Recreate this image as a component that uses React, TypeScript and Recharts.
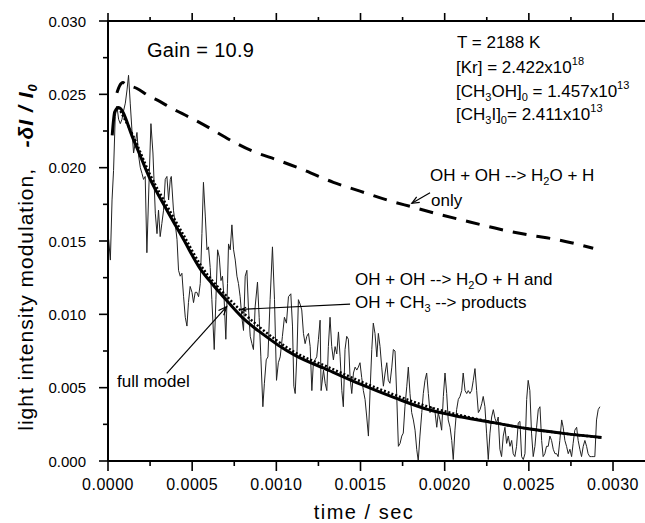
import React from "react";
import { LineChart, Line, XAxis, YAxis, ReferenceLine, Customized } from "recharts";

// time in microseconds, values are -dI/I0
const traceTimesUs = [
  4, 14, 24, 33, 43, 53, 63, 73, 83, 93, 103, 113, 122, 132, 142, 152, 162, 172, 182, 192,
  202, 211, 221, 231, 241, 255, 267, 281, 291, 300, 310, 320, 330, 340, 350, 360, 370, 376, 389, 399,
  410, 419, 429, 439, 449, 459, 469, 478, 488, 499, 508, 518, 528, 538, 548, 558, 567, 578, 588, 597,
  607, 617, 631, 641, 651, 661, 671, 680, 690, 700, 710, 716, 726, 736, 746, 756, 766, 775, 785, 795,
  805, 815, 825, 834, 845, 855, 864, 874, 888, 898, 908, 920, 929, 940, 950, 963, 977, 989, 1001, 1012,
  1023, 1036, 1048, 1060, 1072, 1086, 1096, 1104, 1112, 1123, 1131, 1141, 1151, 1161, 1171, 1181, 1191, 1201, 1211, 1220,
  1230, 1240, 1250, 1260, 1266, 1280, 1290, 1300, 1309, 1319, 1329, 1339, 1349, 1359, 1369, 1379, 1389, 1398, 1408, 1418,
  1428, 1438, 1448, 1458, 1468, 1478, 1487, 1497, 1507, 1517, 1527, 1537, 1547, 1557, 1567, 1576, 1586, 1597, 1606, 1616,
  1626, 1636, 1646, 1656, 1665, 1675, 1686, 1695, 1705, 1715, 1725, 1735, 1745, 1754, 1764, 1775, 1784, 1794, 1804, 1814,
  1824, 1834, 1843, 1853, 1864, 1873, 1883, 1893, 1903, 1913, 1923, 1932, 1943, 1953, 1962, 1972, 1982, 1992, 2002, 2012,
  2021, 2032, 2042, 2051, 2061, 2071, 2081, 2091, 2101, 2110, 2121, 2131, 2140, 2150, 2160, 2170, 2180, 2190, 2200, 2210,
  2220, 2229, 2239, 2249, 2259, 2269, 2279, 2289, 2299, 2309, 2318, 2328, 2338, 2348, 2358, 2368, 2378, 2388, 2398, 2407,
  2417, 2427, 2437, 2447, 2457, 2467, 2477, 2487, 2496, 2506, 2516, 2526, 2536, 2546, 2556, 2566, 2576, 2585, 2595, 2605,
  2615, 2625, 2635, 2645, 2655, 2665, 2674, 2684, 2695, 2704, 2714, 2724, 2734, 2744, 2754, 2763, 2773, 2784, 2793, 2803,
  2813, 2823, 2833, 2843, 2852, 2862, 2873, 2882, 2892, 2902, 2912, 2922,
];
const traceSignal = [
  0.0151, 0.0137, 0.0178, 0.0198, 0.0235, 0.0242, 0.0233, 0.023, 0.0233, 0.0239, 0.0244, 0.0253, 0.0263, 0.0244, 0.0226, 0.021, 0.0217, 0.0224, 0.0208, 0.02,
  0.0196, 0.0192, 0.0194, 0.0142, 0.018, 0.023, 0.021, 0.0169, 0.0155, 0.0171, 0.0153, 0.0162, 0.0171, 0.0192, 0.0194, 0.0178, 0.0192, 0.0194, 0.0171, 0.0162,
  0.0151, 0.013, 0.0126, 0.0128, 0.0112, 0.0098, 0.0092, 0.0108, 0.0119, 0.0115, 0.0108, 0.0115, 0.0115, 0.0112, 0.0121, 0.0155, 0.019, 0.0167, 0.0144, 0.0146,
  0.0132, 0.011, 0.0076, 0.011, 0.0144, 0.0139, 0.0123, 0.0126, 0.011, 0.0083, 0.0121, 0.0148, 0.0144, 0.0161, 0.0144, 0.0137, 0.0126, 0.0121, 0.0112, 0.0098,
  0.0089, 0.0126, 0.013, 0.0105, 0.0085, 0.008, 0.0076, 0.0105, 0.0122, 0.0098, 0.0071, 0.0037, 0.0053, 0.0069, 0.0071, 0.011, 0.0146, 0.011, 0.0055, 0.0067,
  0.0071, 0.0085, 0.0098, 0.0094, 0.0112, 0.0114, 0.0092, 0.0051, 0.0046, 0.0075, 0.011, 0.0107, 0.0103, 0.0087, 0.008, 0.0085, 0.0087, 0.0078, 0.0048, 0.0067,
  0.0069, 0.0071, 0.0083, 0.0096, 0.0048, 0.0062, 0.0053, 0.0048, 0.0078, 0.0098, 0.0078, 0.0069, 0.0078, 0.0073, 0.0088, 0.0071, 0.0048, 0.0037, 0.0076, 0.0085,
  0.0083, 0.0057, 0.0046, 0.006, 0.0064, 0.0062, 0.0064, 0.0067, 0.0057, 0.0048, 0.0042, 0.003, 0.0017, 0.0048, 0.0076, 0.0094, 0.0087, 0.0071, 0.0087, 0.0078,
  0.0064, 0.0051, 0.006, 0.0067, 0.0055, 0.0053, 0.0064, 0.0076, 0.0075, 0.0045, 0.001, 0.0012, 0.0017, 0.0019, 0.0037, 0.0051, 0.0064, 0.0046, 0.0033, 0.0028,
  0.0021, 0.0008, 0.0, 0.0017, 0.0033, 0.0046, 0.0055, 0.006, 0.0046, 0.0033, 0.0037, 0.0035, 0.0033, 0.0023, 0.0033, 0.0028, 0.0021, 0.0044, 0.006, 0.0046,
  0.0028, 0.0023, 0.0014, 0.0001, 0.0021, 0.0035, 0.0042, 0.0044, 0.0048, 0.006, 0.0048, 0.0046, 0.0048, 0.0046, 0.0048, 0.0055, 0.0063, 0.0048, 0.0033, 0.0035,
  0.0039, 0.0044, 0.0037, 0.0019, 0.0001, 0.0019, 0.003, 0.0035, 0.0029, 0.0026, 0.003, 0.0008, 0.0003, 0.0017, 0.0023, 0.0012, 0.0017, 0.001, 0.0014, 0.0005,
  0.0003, 0.001, 0.0026, 0.0027, 0.0003, 0.0001, 0.0005, 0.0042, 0.0055, 0.0048, 0.0019, 0.0003, 0.001, 0.0023, 0.0035, 0.0037, 0.0014, 0.0003, 0.0005, 0.001,
  0.001, 0.0017, 0.0014, 0.0008, 0.0005, 0.0005, 0.0003, 0.0014, 0.0028, 0.0023, 0.0014, 0.001, 0.0005, 0.0008, 0.0003, 0.0012, 0.0021, 0.0023, 0.0014, 0.0008,
  0.0003, 0.001, 0.0014, 0.001, 0.0005, 0.0003, 0.0003, 0.0003, 0.0003, 0.0028, 0.0035, 0.0037,
];

const fullTimesUs = [25, 40, 63, 152, 251, 350, 449, 548, 617, 716, 815, 914, 1012, 1112, 1309, 1507, 1705, 1903, 2101, 2299, 2496, 2695, 2932];
const fullModel = [0.0222, 0.0238, 0.0241, 0.0219, 0.0192, 0.0171, 0.0151, 0.0131, 0.0121, 0.0108, 0.0096, 0.0087, 0.0079, 0.0072, 0.0062, 0.0052, 0.0043, 0.0035, 0.003, 0.0026, 0.0022, 0.0019, 0.0016];

const altTimesUs = [63, 152, 251, 350, 449, 548, 716, 914, 1112, 1309, 1507, 1705, 1903, 2101, 2299, 2496, 2695, 2932];
const altModel = [0.0241, 0.0221, 0.0195, 0.0174, 0.0154, 0.0134, 0.0111, 0.009, 0.0074, 0.0064, 0.0054, 0.0045, 0.0037, 0.0031, 0.0026, 0.0022, 0.0019, 0.0016];

const onlyTimesUs = [53, 70, 89, 103, 172, 241, 310, 370, 439, 508, 864, 1012, 1082, 1171, 1339, 1497, 1656, 1814, 1972, 2150, 2328, 2506, 2665, 2882];
const onlyModel = [0.0251, 0.0256, 0.0258, 0.0257, 0.0254, 0.0249, 0.0245, 0.0241, 0.0237, 0.0233, 0.0211, 0.0205, 0.0202, 0.0198, 0.019, 0.0184, 0.0178, 0.0173, 0.0168, 0.0163, 0.0158, 0.0154, 0.0151, 0.0145];

const X_MAX = 0.00319;
const Y_MAX = 0.03;
const xMajorTicks = [0, 0.0005, 0.001, 0.0015, 0.002, 0.0025, 0.003];
const xMinorTicks = [0.00025, 0.00075, 0.00125, 0.00175, 0.00225, 0.00275];
const yMajorTicks = [0, 0.005, 0.01, 0.015, 0.02, 0.025, 0.03];
const yMinorTicks = [0.0025, 0.0075, 0.0125, 0.0175, 0.0225, 0.0275];

const toSeries = (timesUs: number[], values: number[]) =>
  timesUs.map((t, i) => ({ t: t / 1e6, v: values[i] }));

const traceData = toSeries(traceTimesUs, traceSignal);
const fullData = toSeries(fullTimesUs, fullModel);
const altData = toSeries(altTimesUs, altModel);
const onlyData = toSeries(onlyTimesUs, onlyModel);

const xTicks = [...xMajorTicks, ...xMinorTicks].sort((a, b) => a - b);
const yTicks = [...yMajorTicks, ...yMinorTicks].sort((a, b) => a - b);

// plot box (pixels) = chart margins + axis sizes below
const PLOT_LEFT = 108;
const PLOT_RIGHT = 645;
const PLOT_TOP = 21;

const FONT = "'Liberation Sans', Arial, sans-serif";
const isMajor = (v: number, step: number) => Math.abs(v / step - Math.round(v / step)) < 1e-6;

const BottomTick = (props: any) => {
  const { x, y, payload } = props;
  const major = isMajor(payload.value, 0.0005);
  return (
    <g>
      <line x1={x} y1={y} x2={x} y2={y + (major ? 10 : 5)} stroke="#000" strokeWidth={1.6} />
      {major && (
        <text x={x} y={y + 29} textAnchor="middle" fontSize={16} fontFamily={FONT} letterSpacing={0.5} fill="#000">
          {payload.value.toFixed(4)}
        </text>
      )}
    </g>
  );
};

const LeftTick = (props: any) => {
  const { x, y, payload } = props;
  const major = isMajor(payload.value, 0.005);
  return (
    <g>
      <line x1={x} y1={y} x2={x - (major ? 9 : 5)} y2={y} stroke="#000" strokeWidth={1.6} />
      {major && (
        <text x={x - 22} y={y + 5.5} textAnchor="end" fontSize={15} fontFamily={FONT} fill="#000">
          {payload.value.toFixed(3)}
        </text>
      )}
    </g>
  );
};

const Arrow = (props: any) => {
  const { x1, y1, x2, y2, head = 9 } = props;
  const a = Math.atan2(y2 - y1, x2 - x1);
  const s = 0.4;
  return (
    <g>
      <line x1={x1} y1={y1} x2={x2} y2={y2} stroke="#000" strokeWidth={1.2} />
      <polyline
        points={`${x2 - head * Math.cos(a - s)},${y2 - head * Math.sin(a - s)} ${x2},${y2} ${x2 - head * Math.cos(a + s)},${y2 - head * Math.sin(a + s)}`}
        fill="none"
        stroke="#000"
        strokeWidth={1.2}
      />
    </g>
  );
};

// segments: plain text, or [text, "sub" | "sup"]
type Seg = string | [string, "sub" | "sup"];
const shiftOf = (s: Seg) => (typeof s === "string" ? 0 : s[1] === "sub" ? 4 : -8);

const RichText = ({ x, y, segs }: { x: number; y: number; segs: Seg[] }) => {
  let prev = 0;
  return (
    <text x={x} y={y}>
      {segs.map((s, i) => {
        const shift = shiftOf(s);
        const dy = shift - prev;
        prev = shift;
        const txt = typeof s === "string" ? s : s[0];
        return (
          <tspan key={i} dy={dy} fontSize={typeof s === "string" ? undefined : 11}>
            {txt}
          </tspan>
        );
      })}
    </text>
  );
};

const topTickX = (t: number) => PLOT_LEFT + (t / X_MAX) * (PLOT_RIGHT - PLOT_LEFT);

const Annotations = () => (
  <g fontFamily={FONT} fill="#000">
    <rect x={PLOT_LEFT - 1} y={PLOT_TOP - 1} width={PLOT_RIGHT - PLOT_LEFT + 1} height={2} fill="#000" />
    {xTicks.map((t) => {
      const len = isMajor(t, 0.0005) ? 8 : 4;
      return <rect key={t} x={topTickX(t) - 0.8} y={PLOT_TOP - len} width={1.6} height={len} fill="#000" />;
    })}
    <text x={147} y={57} fontSize={20} letterSpacing={0.3}>Gain = 10.9</text>
    <g fontSize={17}>
      <text x={457} y={48}>T = 2188 K</text>
      <RichText x={456} y={73} segs={["[Kr] = 2.422x10", ["18", "sup"]]} />
      <RichText x={456} y={97} segs={["[CH", ["3", "sub"], "OH]", ["0", "sub"], " = 1.457x10", ["13", "sup"]]} />
      <RichText x={456} y={120} segs={["[CH", ["3", "sub"], "I]", ["0", "sub"], "= 2.411x10", ["13", "sup"]]} />
      <RichText x={430} y={181} segs={["OH + OH --> H", ["2", "sub"], "O + H"]} />
      <text x={431} y={206}>only</text>
      <RichText x={355} y={285} segs={["OH + OH --> H", ["2", "sub"], "O + H and"]} />
      <RichText x={355} y={308} segs={["OH + CH", ["3", "sub"], " --> products"]} />
      <text x={117} y={387}>full model</text>
    </g>
    <text x={364} y={519} fontSize={20} letterSpacing={1.5} textAnchor="middle">time / sec</text>
    <text x={33} y={257} fontSize={21} letterSpacing={1.0} textAnchor="middle" transform="rotate(-90 33 257)">
      <tspan>light intensity modulation,{"\u00a0\u00a0\u00a0"}</tspan>
      <tspan fontWeight="bold" fontStyle="italic">-δI / I</tspan>
      <tspan fontWeight="bold" fontStyle="italic" fontSize={13} dy={4}>0</tspan>
    </text>
  </g>
);

export default function App() {
  return (
    <div style={{ position: "absolute", left: 0, top: 0, width: 645, height: 523, background: "#fff" }}>
      <LineChart width={645} height={523} margin={{ top: PLOT_TOP, right: 0, bottom: 22, left: 0 }}>
        <XAxis
          type="number"
          dataKey="t"
          domain={[0, X_MAX]}
          allowDataOverflow
          ticks={xTicks}
          interval={0}
          tickSize={0}
          tickMargin={0}
          tick={<BottomTick />}
          height={40}
          stroke="#000"
          strokeWidth={2}
        />
        <YAxis
          type="number"
          domain={[0, Y_MAX]}
          allowDataOverflow
          ticks={yTicks}
          interval={0}
          tickSize={0}
          tickMargin={0}
          tick={<LeftTick />}
          width={PLOT_LEFT}
          stroke="#000"
          strokeWidth={2}
        />
        <Line data={traceData} dataKey="v" type="linear" stroke="#222" strokeWidth={1} dot={false} isAnimationActive={false} />
        <Line data={altData} dataKey="v" type="monotone" stroke="#000" strokeWidth={2.5} strokeDasharray="2 2" dot={false} isAnimationActive={false} />
        <Line data={fullData} dataKey="v" type="monotone" stroke="#000" strokeWidth={3} dot={false} isAnimationActive={false} />
        <Line data={onlyData} dataKey="v" type="monotone" stroke="#000" strokeWidth={3} strokeDasharray="14 10" dot={false} isAnimationActive={false} />
        <ReferenceLine segment={[{ x: 0.001913, y: 0.01829 }, { x: 0.001805, y: 0.01757 }]} shape={<Arrow head={8} />} ifOverflow="visible" />
        <ReferenceLine segment={[{ x: 0.000349, y: 0.00598 }, { x: 0.000705, y: 0.01052 }]} shape={<Arrow head={9} />} ifOverflow="visible" />
        <ReferenceLine segment={[{ x: 0.001438, y: 0.0107 }, { x: 0.000794, y: 0.01034 }]} shape={<Arrow head={5} />} ifOverflow="visible" />
        <Customized component={Annotations} />
      </LineChart>
      {/* frame top edge, also as a plain box so it survives any svg quirk */}
      <div
        style={{
          position: "absolute",
          left: PLOT_LEFT - 1,
          top: PLOT_TOP - 1,
          width: PLOT_RIGHT - PLOT_LEFT + 1,
          height: 2,
          background: "#000",
          pointerEvents: "none",
        }}
      />
    </div>
  );
}
